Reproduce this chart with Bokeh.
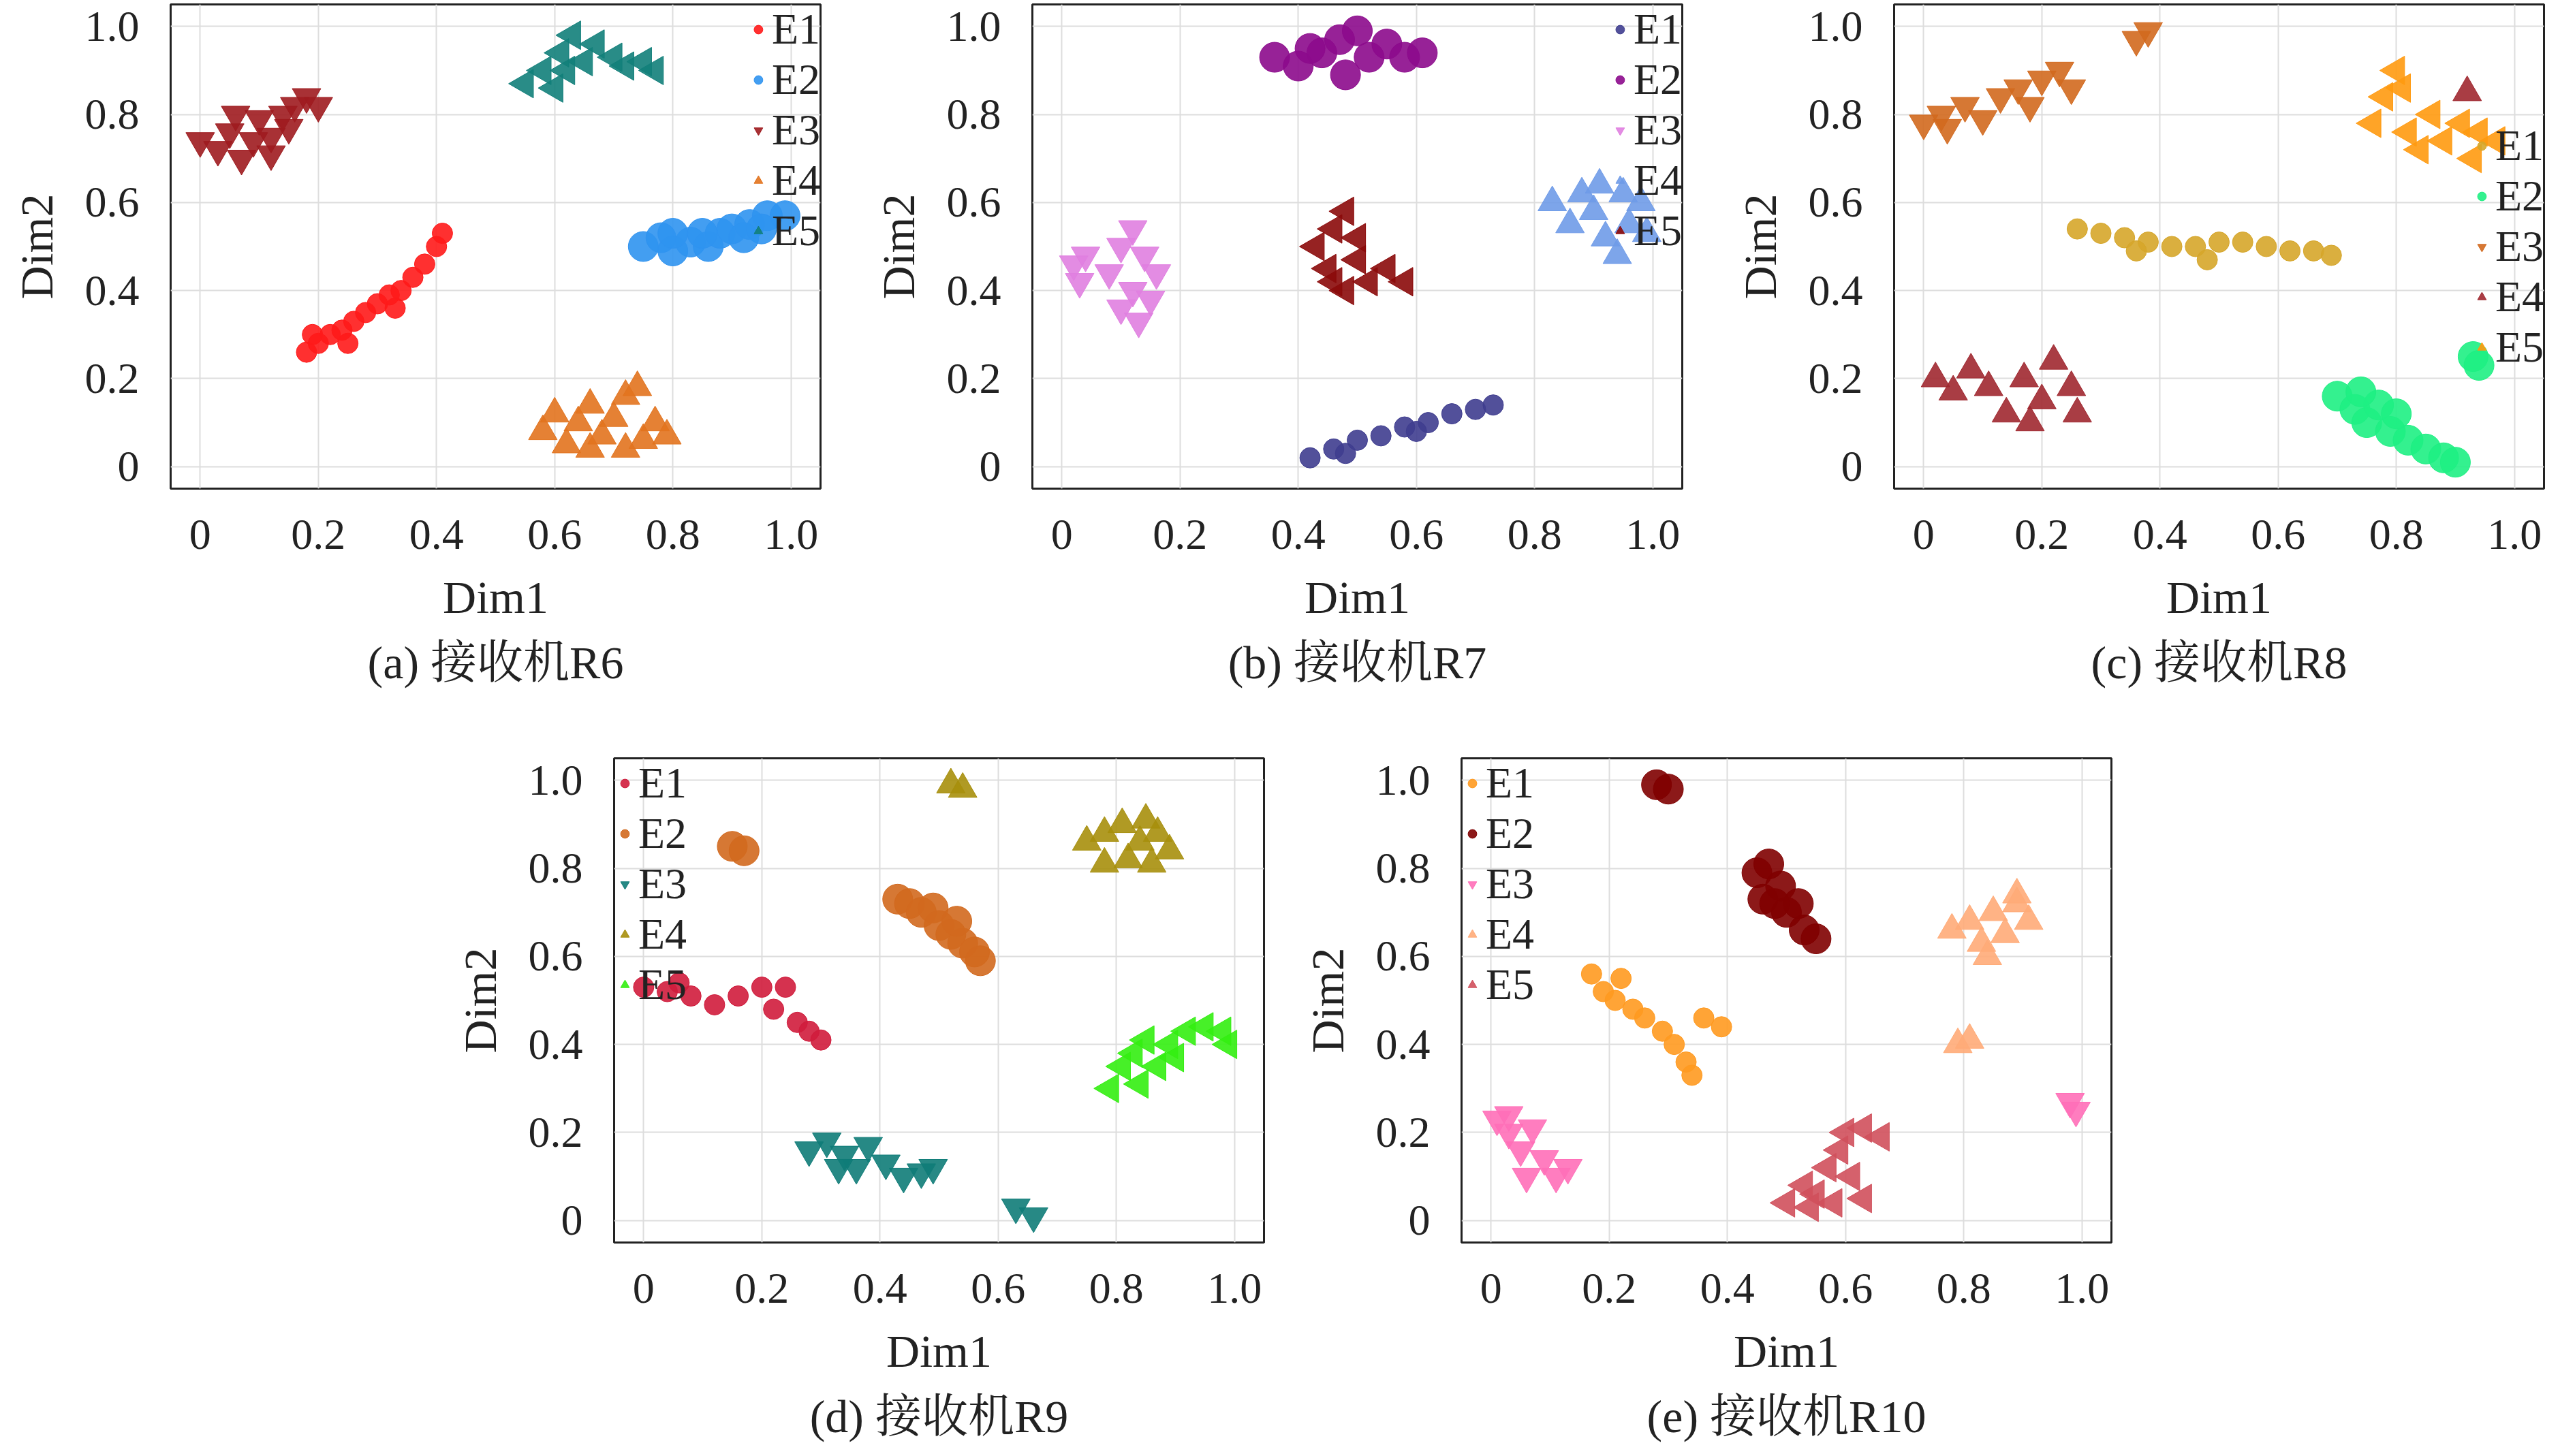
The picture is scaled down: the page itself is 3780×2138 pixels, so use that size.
import numpy as np
from bokeh.plotting import figure
from bokeh.models import FixedTicker, Title, Legend, Spacer
from bokeh.layouts import row, column
from bokeh.embed import file_html
from bokeh.resources import INLINE

# datos: una lista de puntos (x, y) por emisor y receptor
series = ["E1", "E2", "E3", "E4", "E5"]
markers = ["circle", "circle", "inverted_triangle", "triangle", "triangle"]
angles = [0, 0, 0, 0, np.pi / 2]
sizes = [30, 44, 42, 42, 42]

r6_pts = [
    [(0.18,0.26),(0.20,0.28),(0.22,0.30),(0.24,0.31),(0.26,0.33),(0.28,0.35),(0.30,0.37),(0.32,0.39),
     (0.34,0.40),(0.36,0.43),(0.38,0.46),(0.40,0.50),(0.41,0.53),(0.19,0.30),(0.25,0.28),(0.33,0.36)],
    [(0.75,0.50),(0.78,0.52),(0.80,0.49),(0.83,0.51),(0.86,0.50),(0.88,0.53),(0.90,0.54),(0.93,0.55),
     (0.96,0.57),(0.99,0.57),(0.92,0.52),(0.80,0.53),(0.85,0.53),(0.95,0.54)],
    [(0.0,0.74),(0.03,0.72),(0.05,0.76),(0.07,0.70),(0.09,0.74),(0.10,0.79),(0.12,0.75),(0.14,0.80),
     (0.16,0.82),(0.18,0.84),(0.20,0.82),(0.06,0.80),(0.12,0.71),(0.15,0.77)],
    [(0.58,0.08),(0.60,0.12),(0.62,0.05),(0.64,0.10),(0.66,0.14),(0.68,0.07),(0.70,0.11),(0.72,0.16),
     (0.74,0.18),(0.75,0.06),(0.77,0.10),(0.79,0.07),(0.66,0.04),(0.72,0.04)],
    [(0.55,0.87),(0.58,0.90),(0.60,0.86),(0.61,0.94),(0.63,0.98),(0.65,0.92),(0.67,0.96),(0.70,0.93),
     (0.72,0.91),(0.75,0.92),(0.77,0.90),(0.62,0.90)],
]
r7_pts = [
    [(0.42,0.02),(0.46,0.04),(0.50,0.06),(0.54,0.07),(0.58,0.09),(0.62,0.10),(0.66,0.12),(0.70,0.13),
     (0.73,0.14),(0.48,0.03),(0.60,0.08)],
    [(0.36,0.93),(0.40,0.91),(0.44,0.94),(0.47,0.97),(0.50,0.99),(0.48,0.89),(0.52,0.93),(0.55,0.96),
     (0.58,0.93),(0.61,0.94),(0.42,0.95)],
    [(0.02,0.46),(0.03,0.42),(0.04,0.48),(0.08,0.44),(0.10,0.50),(0.12,0.54),(0.14,0.48),(0.12,0.40),
     (0.10,0.36),(0.13,0.33),(0.16,0.44),(0.15,0.38)],
    [(0.83,0.60),(0.86,0.55),(0.88,0.62),(0.90,0.58),(0.92,0.52),(0.94,0.48),(0.96,0.55),(0.98,0.60),
     (0.99,0.53),(0.91,0.64),(0.95,0.62)],
    [(0.43,0.50),(0.45,0.45),(0.46,0.54),(0.48,0.58),(0.50,0.52),(0.48,0.40),(0.52,0.42),(0.55,0.45),
     (0.58,0.42),(0.50,0.47),(0.46,0.42)],
]
r8_pts = [
    [(0.26,0.54),(0.30,0.53),(0.34,0.52),(0.38,0.51),(0.42,0.50),(0.46,0.50),(0.50,0.51),(0.54,0.51),
     (0.58,0.50),(0.62,0.49),(0.66,0.49),(0.69,0.48),(0.36,0.49),(0.48,0.47)],
    [(0.70,0.16),(0.73,0.13),(0.75,0.10),(0.77,0.14),(0.79,0.08),(0.82,0.06),(0.85,0.04),(0.88,0.02),
     (0.90,0.01),(0.80,0.12),(0.93,0.25),(0.94,0.23),(0.74,0.17)],
    [(0.0,0.78),(0.04,0.77),(0.07,0.82),(0.10,0.79),(0.13,0.84),(0.16,0.86),(0.20,0.88),(0.23,0.90),
     (0.25,0.86),(0.18,0.82),(0.36,0.97),(0.38,0.99),(0.03,0.80)],
    [(0.02,0.20),(0.05,0.17),(0.08,0.22),(0.11,0.18),(0.14,0.12),(0.17,0.20),(0.20,0.15),(0.22,0.24),
     (0.25,0.18),(0.26,0.12),(0.18,0.10),(0.92,0.85)],
    [(0.76,0.78),(0.78,0.84),(0.80,0.90),(0.82,0.76),(0.84,0.72),(0.86,0.80),(0.88,0.74),(0.91,0.78),
     (0.94,0.76),(0.97,0.74),(0.93,0.70),(0.81,0.86)],
]
r9_pts = [
    [(0.0,0.53),(0.04,0.52),(0.08,0.51),(0.12,0.49),(0.16,0.51),(0.20,0.53),(0.24,0.53),(0.22,0.48),
     (0.26,0.45),(0.28,0.43),(0.30,0.41),(0.06,0.54)],
    [(0.15,0.85),(0.17,0.84),(0.43,0.73),(0.45,0.72),(0.47,0.70),(0.49,0.71),(0.50,0.67),(0.52,0.65),
     (0.54,0.63),(0.56,0.61),(0.57,0.59),(0.53,0.68)],
    [(0.28,0.16),(0.31,0.18),(0.34,0.15),(0.36,0.12),(0.38,0.17),(0.41,0.13),(0.44,0.10),(0.47,0.11),
     (0.49,0.12),(0.33,0.12),(0.63,0.03),(0.66,0.01)],
    [(0.52,0.99),(0.54,0.98),(0.75,0.86),(0.78,0.88),(0.81,0.90),(0.84,0.86),(0.87,0.88),(0.89,0.84),
     (0.86,0.81),(0.82,0.82),(0.78,0.81),(0.85,0.91)],
    [(0.79,0.30),(0.81,0.35),(0.83,0.38),(0.85,0.41),(0.87,0.35),(0.89,0.40),(0.92,0.43),(0.95,0.44),
     (0.98,0.43),(0.99,0.40),(0.84,0.31),(0.90,0.37)],
]
r10_pts = [
    [(0.17,0.56),(0.19,0.52),(0.21,0.50),(0.24,0.48),(0.26,0.46),(0.29,0.43),(0.31,0.40),(0.33,0.36),
     (0.34,0.33),(0.36,0.46),(0.39,0.44),(0.22,0.55)],
    [(0.28,0.99),(0.30,0.98),(0.45,0.79),(0.47,0.81),(0.49,0.76),(0.46,0.73),(0.50,0.70),(0.52,0.72),
     (0.53,0.66),(0.55,0.64),(0.48,0.72)],
    [(0.01,0.23),(0.03,0.20),(0.05,0.16),(0.07,0.21),(0.09,0.14),(0.11,0.10),(0.13,0.12),(0.06,0.10),
     (0.03,0.24),(0.98,0.27),(0.99,0.25)],
    [(0.78,0.66),(0.81,0.68),(0.83,0.63),(0.85,0.70),(0.87,0.65),(0.89,0.72),(0.91,0.68),(0.84,0.60),
     (0.89,0.74),(0.79,0.40),(0.81,0.41)],
    [(0.50,0.04),(0.53,0.08),(0.55,0.06),(0.57,0.12),(0.59,0.16),(0.61,0.10),(0.63,0.05),(0.60,0.20),
     (0.63,0.21),(0.66,0.19),(0.54,0.03),(0.58,0.04)],
]

colors = {
    "R6": ["#ff1a1a", "#2f93f0", "#9e1b1f", "#e2731e", "#127f7a"],
    "R7": ["#3f3d8f", "#8c0a8c", "#e07fe0", "#6f9be8", "#8b0a0a"],
    "R8": ["#d6a62a", "#1eef83", "#d2691e", "#a02830", "#ff9a10"],
    "R9": ["#d01c3c", "#d2691e", "#0f7c78", "#a78f0c", "#33ee11"],
    "R10": ["#ff9a20", "#800000", "#ff6fb8", "#ffab78", "#d0505c"],
}

ticks = [0, 0.2, 0.4, 0.6, 0.8, 1.0]
tick_labels = {0: "0", 0.2: "0.2", 0.4: "0.4", 0.6: "0.6", 0.8: "0.8", 1.0: "1.0"}

FONT = "Liberation Serif, Noto Serif CJK SC, Noto Sans CJK SC"


def panel(pts, cols, caption, legend_loc, right_border=61):
    p = figure(frame_width=954, frame_height=711, x_range=(-0.05, 1.05), y_range=(-0.05, 1.05),
               output_backend="svg", toolbar_location=None,
               min_border_left=250, min_border_right=right_border, min_border_top=6, min_border_bottom=10)
    items = []
    for k, name in enumerate(series):
        xs = [q[0] for q in pts[k]]
        ys = [q[1] for q in pts[k]]
        r = p.scatter(xs, ys, marker=markers[k], size=sizes[k], angle=angles[k],
                      fill_color=cols[k], line_color=cols[k], fill_alpha=0.9)
        items.append((name, [r]))
    leg = Legend(items=items, location=legend_loc, background_fill_alpha=0.0, border_line_color=None,
                 label_text_font=FONT, label_text_font_size="64px", label_text_color="#222222",
                 spacing=-12, padding=0, margin=0, glyph_width=32, glyph_height=52,
                 label_standoff=4, label_height=52, label_text_line_height=0.8)
    p.add_layout(leg)
    for ax in (p.xaxis, p.yaxis):
        ax.ticker = FixedTicker(ticks=ticks)
        ax.major_label_overrides = tick_labels
        ax.major_label_text_font = FONT
        ax.major_label_text_font_size = "64px"
        ax.major_label_text_color = "#222222"
        ax.axis_label_text_font = FONT
        ax.axis_label_text_font_size = "68px"
        ax.axis_label_text_font_style = "normal"
        ax.axis_label_text_color = "#222222"
        ax.axis_line_color = None
        ax.major_tick_line_color = None
        ax.minor_tick_line_color = None
        ax.major_label_standoff = 40
        ax.axis_label_standoff = 30
    p.xaxis.axis_label = "Dim1"
    p.yaxis.axis_label = "Dim2"
    p.xgrid.ticker = FixedTicker(ticks=ticks)
    p.ygrid.ticker = FixedTicker(ticks=ticks)
    p.grid.grid_line_color = "#dddddd"
    p.grid.grid_line_width = 2
    p.outline_line_color = "#222222"
    p.outline_line_width = 3
    p.add_layout(Title(text=caption, align="center", text_font=FONT, text_font_size="68px",
                       text_font_style="normal", text_color="#222222", offset=0, standoff=30), "below")
    return p


pa = panel(r6_pts, colors["R6"], "(a) 接收机R6", "top_right")
pb = panel(r7_pts, colors["R7"], "(b) 接收机R7", "top_right")
pc = panel(r8_pts, colors["R8"], "(c) 接收机R8", "center_right")
pd = panel(r9_pts, colors["R9"], "(d) 接收机R9", "top_left", right_border=40)
pe = panel(r10_pts, colors["R10"], "(e) 接收机R10", "top_left")

lay = column(row(pa, pb, pc), Spacer(height=82), row(Spacer(width=651), pd, pe))

open("out.html", "w").write(file_html(lay, INLINE))
